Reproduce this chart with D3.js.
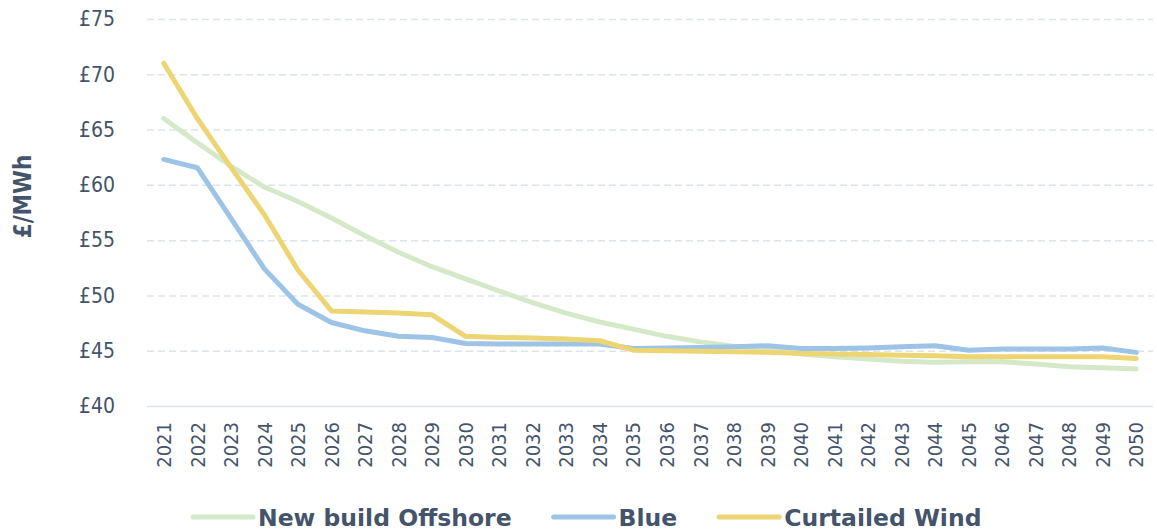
<!DOCTYPE html>
<html>
<head>
<meta charset="utf-8">
<script src="https://cdn.jsdelivr.net/npm/d3@7"></script>
<style>
  body { margin: 0; background: #fff; }
  svg { display: block; }
</style>
</head>
<body>
<div id="chart"></div>
<script>
// chart data
const years = ['2021', '2022', '2023', '2024', '2025', '2026', '2027', '2028', '2029', '2030',
  '2031', '2032', '2033', '2034', '2035', '2036', '2037', '2038', '2039', '2040',
  '2041', '2042', '2043', '2044', '2045', '2046', '2047', '2048', '2049', '2050'];

const newBuildOffshore = [66.0, 63.8, 61.7, 59.8, 58.5, 57.0, 55.4, 53.9, 52.6, 51.5,
  50.4, 49.35, 48.4, 47.6, 46.95, 46.3, 45.8, 45.4, 45.2, 44.7,
  44.45, 44.25, 44.05, 43.95, 44.0, 44.0, 43.8, 43.55, 43.45, 43.35];

const blue = [62.3, 61.55, 57.0, 52.4, 49.2, 47.55, 46.8, 46.3, 46.2, 45.65,
  45.6, 45.6, 45.6, 45.6, 45.2, 45.25, 45.3, 45.35, 45.45, 45.2,
  45.2, 45.25, 45.35, 45.45, 45.05, 45.15, 45.15, 45.15, 45.25, 44.85];

const curtailedWind = [71.0, 66.0, 61.6, 57.3, 52.3, 48.6, 48.5, 48.4, 48.25, 46.3,
  46.2, 46.15, 46.05, 45.9, 45.05, 45.0, 44.95, 44.9, 44.85, 44.75,
  44.7, 44.65, 44.6, 44.55, 44.45, 44.45, 44.45, 44.45, 44.45, 44.3];

const seriesNames = ['New build Offshore', 'Blue', 'Curtailed Wind'];
const seriesColors = ['#d5e9c9', '#9dc3e6', '#ecd572'];
const yTicks = [40, 45, 50, 55, 60, 65, 70, 75];

const width = 1157;
const height = 532;
const margin = { top: 19, right: 4, bottom: 126, left: 147 };
const textColor = '#44546a';

const svg = d3.select('#chart')
  .append('svg')
  .attr('width', width)
  .attr('height', height);

const x = d3.scaleBand()
  .domain(years)
  .range([margin.left, width - margin.right])
  .padding(0);

const y = d3.scaleLinear()
  .domain([40, 75])
  .range([height - margin.bottom, margin.top]);

// y axis + gridlines
const yAxis = d3.axisLeft(y)
  .tickValues(yTicks)
  .tickFormat(d => '£' + d)
  .tickSizeInner(-(width - margin.left - margin.right))
  .tickSizeOuter(0)
  .tickPadding(32);

const yG = svg.append('g')
  .attr('transform', `translate(${margin.left}, 0)`)
  .call(yAxis);

yG.select('.domain').remove();
yG.selectAll('.tick line')
  .attr('stroke', '#dde3ea')
  .attr('stroke-width', 1.5)
  .attr('stroke-dasharray', d => d === 40 ? null : '7,4');
yG.selectAll('.tick text')
  .attr('fill', textColor)
  .style('font-family', '"DejaVu Sans Condensed", "DejaVu Sans", sans-serif')
  .style('font-size', '21px');

// x axis labels
const xAxis = d3.axisBottom(x).tickSize(0);
const xG = svg.append('g')
  .attr('transform', `translate(0, ${height - margin.bottom})`)
  .call(xAxis);

xG.select('.domain').remove();
xG.selectAll('.tick text')
  .attr('fill', textColor)
  .attr('x', 0)
  .attr('y', 0)
  .attr('dy', '0.36em')
  .attr('text-anchor', 'end')
  .attr('transform', 'translate(0, 16) rotate(-90)')
  .style('font-family', '"DejaVu Sans Condensed", "DejaVu Sans", sans-serif')
  .style('font-size', '20px');

// y axis title
svg.append('text')
  .attr('transform', `translate(23, ${(margin.top + height - margin.bottom) / 2 - 16}) rotate(-90)`)
  .attr('text-anchor', 'middle')
  .attr('dy', '0.35em')
  .attr('fill', textColor)
  .style('font-family', '"DejaVu Sans Condensed", "DejaVu Sans", sans-serif')
  .style('font-weight', 'bold')
  .style('font-size', '24px')
  .text('£/MWh');

// lines
const allSeries = [newBuildOffshore, blue, curtailedWind];
const line = d3.line()
  .x((d, i) => x(years[i]) + x.bandwidth() / 2)
  .y(d => y(d));

svg.selectAll('.series')
  .data(allSeries)
  .enter()
  .append('path')
  .attr('class', 'series')
  .attr('fill', 'none')
  .attr('stroke', (d, i) => seriesColors[i])
  .attr('stroke-width', 5)
  .attr('stroke-linejoin', 'round')
  .attr('stroke-linecap', 'round')
  .attr('d', line);

// legend
const legend = svg.append('g').attr('transform', 'translate(193, 517)');
let lx = 0;
seriesNames.forEach((name, i) => {
  legend.append('line')
    .attr('x1', lx).attr('x2', lx + 60)
    .attr('y1', 0).attr('y2', 0)
    .attr('stroke', seriesColors[i])
    .attr('stroke-width', 5)
    .attr('stroke-linecap', 'round');
  const t = legend.append('text')
    .attr('x', lx + 65)
    .attr('y', 9)
    .attr('fill', textColor)
    .style('font-family', '"DejaVu Sans", sans-serif')
    .style('font-weight', 'bold')
    .style('font-size', '23.5px')
    .text(name);
  lx += 65 + t.node().getComputedTextLength() + 42;
});
</script>
</body>
</html>
